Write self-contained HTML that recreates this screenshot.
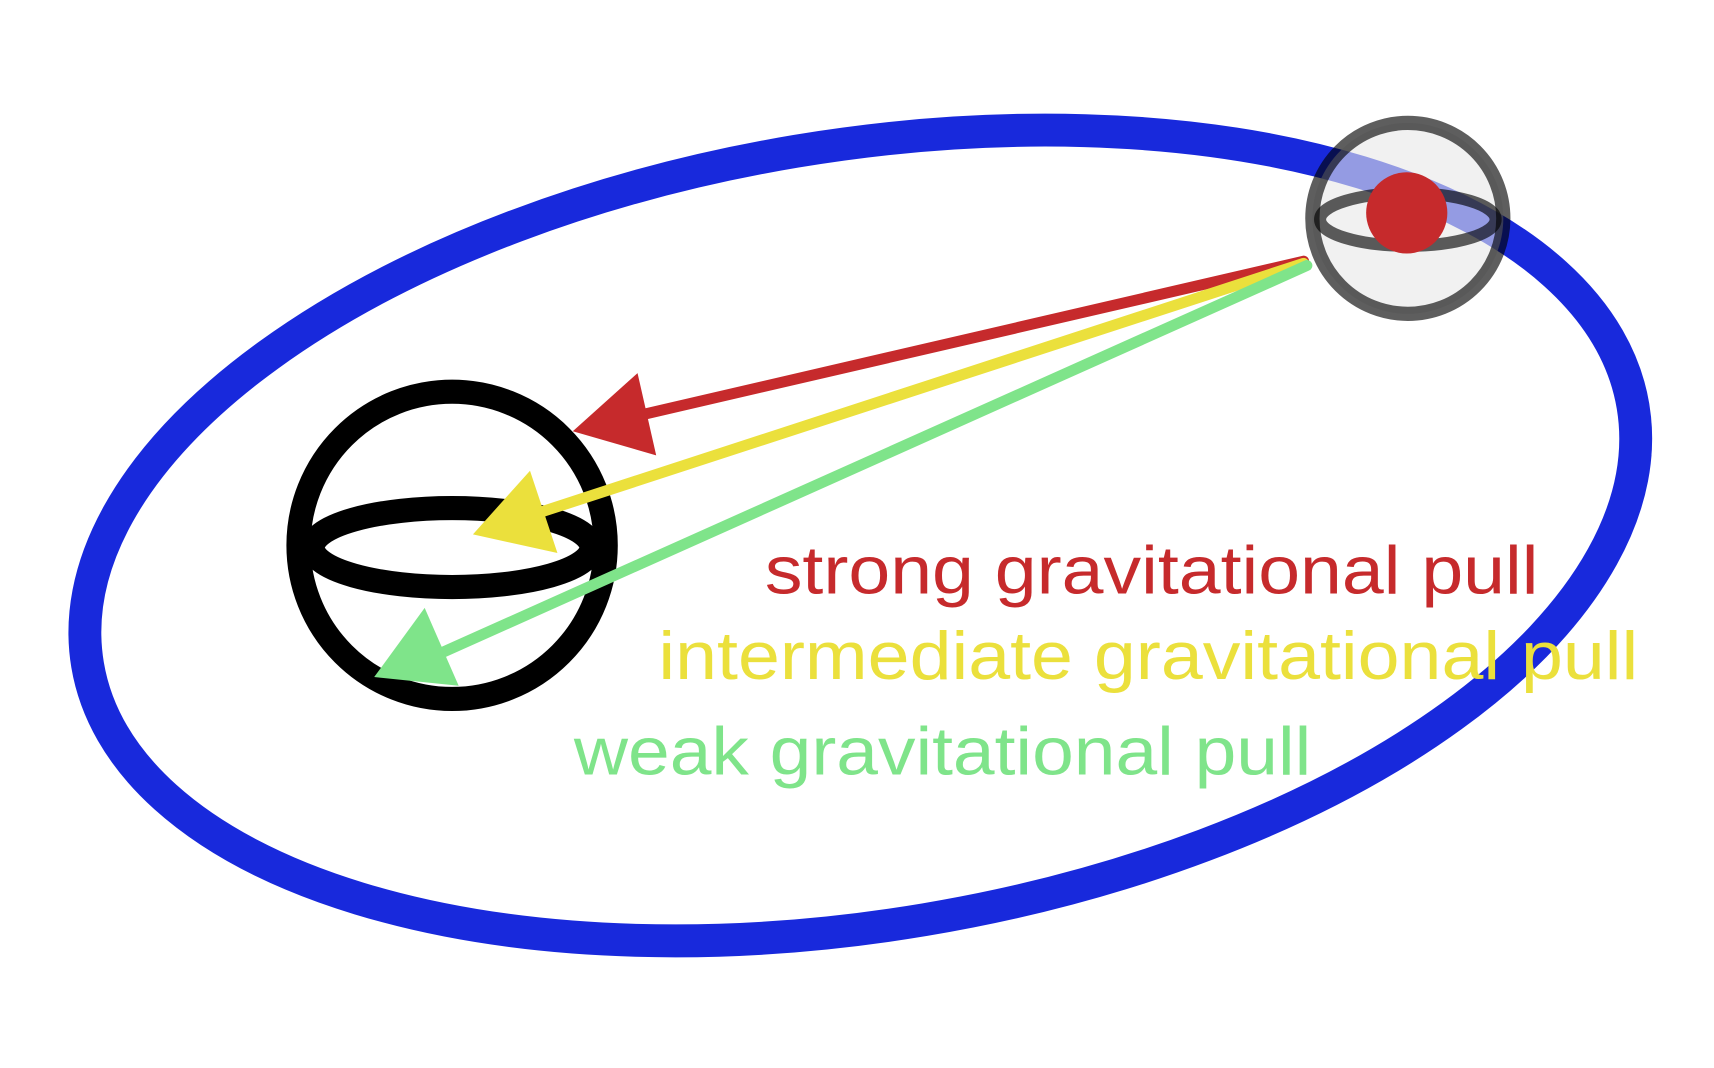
<!DOCTYPE html>
<html><head><meta charset="utf-8"><style>
html,body{margin:0;padding:0;background:#fff;width:1714px;height:1068px;overflow:hidden}
svg{display:block}
text{font-family:"Liberation Sans",sans-serif;font-size:62px}
</style></head><body>
<svg width="1714" height="1068" viewBox="0 0 1562 973.3">
<ellipse cx="784" cy="488" rx="714" ry="355" transform="rotate(-9.5 784 488)" fill="none" stroke="#1829dc" stroke-width="30"/>
<g fill="none" stroke="#000" stroke-width="22">
<circle cx="412" cy="497" r="140"/>
<ellipse cx="412" cy="499" rx="127" ry="36"/>
</g>
<g>
<circle cx="1283" cy="199" r="87" fill="#e8e8e8" fill-opacity="0.6" stroke="#000" stroke-opacity="0.63" stroke-width="13"/>
<ellipse cx="1283" cy="200" rx="80" ry="24" fill="none" stroke="#000" stroke-opacity="0.63" stroke-width="11"/>
<circle cx="1282" cy="194" r="37" fill="#c62a2c"/>
</g>
<g>
<line x1="1188" y1="238" x2="585" y2="378" stroke="#c62a2c" stroke-width="10" stroke-linecap="round"/>
<polygon points="522,393 581,340 598,415" fill="#c62a2c"/>
</g>
<g>
<line x1="1188" y1="240" x2="495" y2="466" stroke="#ebe03c" stroke-width="10" stroke-linecap="round"/>
<polygon points="431,487 483,429 508,504" fill="#ebe03c"/>
</g>
<g>
<line x1="1191" y1="242" x2="400" y2="596" stroke="#7fe48a" stroke-width="10" stroke-linecap="round"/>
<polygon points="341,617 387,554 418,625" fill="#7fe48a"/>
</g>
<text x="697" y="541" fill="#c62a2c" textLength="705" lengthAdjust="spacingAndGlyphs">strong gravitational pull</text>
<text x="600" y="619" fill="#ebe03c" textLength="893" lengthAdjust="spacingAndGlyphs">intermediate gravitational pull</text>
<text x="523" y="706" fill="#7fe48a" textLength="672" lengthAdjust="spacingAndGlyphs">weak gravitational pull</text>
</svg>
</body></html>
